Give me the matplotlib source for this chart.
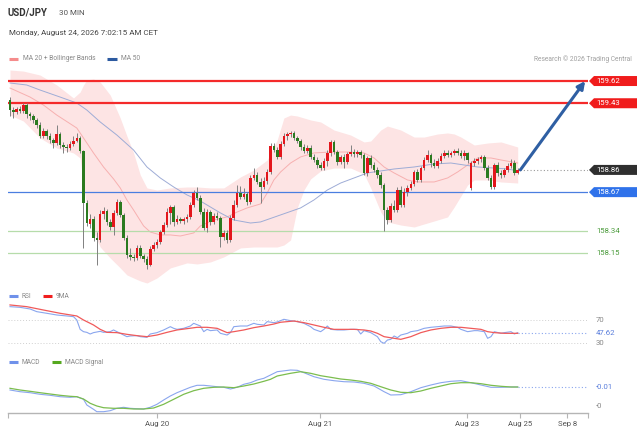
import matplotlib
matplotlib.use("Agg")
import matplotlib.pyplot as plt
from matplotlib.patches import Polygon
import numpy as np

plt.rcParams["font.family"] = ["Roboto", "DejaVu Sans"]

# =========================================================
# DATA  (USD/JPY, 30 min candles)
# =========================================================

opens = [159.458, 159.372, 159.355, 159.381, 159.364, 159.415, 159.338, 159.321, 159.287, 159.244,
         159.150, 159.193, 159.150, 159.116, 159.090, 159.167, 159.073, 159.056, 159.047, 159.082,
         159.107, 159.133, 159.022, 158.577, 158.398, 158.441, 158.278, 158.261, 158.483, 158.509,
         158.415, 158.372, 158.492, 158.586, 158.475, 158.278, 158.133, 158.116, 158.107, 158.193,
         158.124, 158.099, 158.047, 158.184, 158.218, 158.244, 158.329, 158.389, 158.492, 158.543,
         158.415, 158.441, 158.424, 158.441, 158.458, 158.560, 158.663, 158.620, 158.500, 158.364,
         158.500, 158.415, 158.466, 158.449, 158.287, 158.321, 158.261, 158.449, 158.560, 158.663,
         158.629, 158.654, 158.586, 158.791, 158.817, 158.757, 158.714, 158.765, 158.842, 159.065,
         159.030, 158.971, 159.082, 159.150, 159.167, 159.176, 159.133, 159.107, 159.056, 159.022,
         159.047, 158.971, 158.945, 158.902, 158.876, 158.936, 159.005, 159.099, 159.013, 158.928,
         158.971, 158.928, 158.996, 159.013, 158.996, 159.013, 158.988, 158.834, 158.962, 158.902,
         158.859, 158.817, 158.731, 158.517, 158.432, 158.552, 158.517, 158.688, 158.560, 158.671,
         158.706, 158.740, 158.842, 158.774, 158.876, 158.945, 158.988, 158.919, 158.894, 158.936,
         158.979, 159.005, 158.988, 159.005, 159.022, 159.005, 158.979, 159.005, 158.706, 158.919,
         158.936, 158.953, 158.971, 158.876, 158.791, 158.714, 158.902, 158.834, 158.817, 158.859,
         158.894, 158.919, 158.834]

highs = [159.483, 159.398, 159.398, 159.406, 159.432, 159.432, 159.355, 159.338, 159.304, 159.270,
         159.218, 159.210, 159.176, 159.133, 159.244, 159.184, 159.099, 159.082, 159.107, 159.150,
         159.176, 159.150, 159.030, 158.603, 158.483, 158.466, 158.329, 158.517, 158.543, 158.526,
         158.441, 158.517, 158.612, 158.603, 158.492, 158.304, 158.193, 158.141, 158.218, 158.218,
         158.141, 158.124, 158.210, 158.244, 158.270, 158.347, 158.415, 158.535, 158.560, 158.560,
         158.475, 158.458, 158.458, 158.483, 158.586, 158.688, 158.714, 158.646, 158.535, 158.526,
         158.517, 158.492, 158.500, 158.466, 158.347, 158.347, 158.475, 158.603, 158.731, 158.723,
         158.706, 158.671, 158.817, 158.876, 158.842, 158.791, 158.800, 158.868, 159.090, 159.090,
         159.056, 159.107, 159.176, 159.184, 159.193, 159.193, 159.150, 159.124, 159.082, 159.073,
         159.073, 158.996, 158.971, 158.928, 158.962, 159.030, 159.116, 159.116, 159.030, 158.988,
         158.996, 159.013, 159.073, 159.039, 159.030, 159.030, 159.005, 158.979, 158.988, 158.928,
         158.885, 158.842, 158.748, 158.543, 158.577, 158.603, 158.714, 158.723, 158.706, 158.731,
         158.765, 158.859, 158.868, 158.894, 158.971, 159.030, 159.005, 158.953, 158.962, 159.005,
         159.030, 159.030, 159.022, 159.039, 159.047, 159.030, 159.030, 159.013, 158.936, 158.962,
         158.971, 158.988, 158.988, 158.902, 158.817, 158.919, 158.928, 158.859, 158.876, 158.919,
         158.953, 158.945, 158.876]

lows = [159.321, 159.304, 159.338, 159.347, 159.347, 159.304, 159.287, 159.261, 159.218, 159.133,
        159.133, 159.124, 159.090, 159.047, 159.073, 159.047, 159.005, 159.013, 159.030, 159.065,
        159.099, 159.005, 158.193, 158.381, 158.364, 158.252, 158.047, 158.244, 158.441, 158.389,
        158.347, 158.304, 158.475, 158.458, 158.261, 158.107, 158.090, 158.082, 158.090, 158.107,
        158.073, 158.013, 158.039, 158.167, 158.193, 158.227, 158.312, 158.372, 158.398, 158.381,
        158.398, 158.406, 158.398, 158.415, 158.441, 158.543, 158.603, 158.483, 158.347, 158.329,
        158.389, 158.398, 158.432, 158.201, 158.261, 158.235, 158.244, 158.432, 158.543, 158.612,
        158.612, 158.560, 158.569, 158.774, 158.740, 158.577, 158.697, 158.740, 158.825, 159.013,
        158.953, 158.953, 159.065, 159.116, 159.141, 159.116, 159.090, 159.030, 159.005, 159.005,
        158.953, 158.928, 158.876, 158.859, 158.859, 158.894, 158.979, 158.996, 158.902, 158.911,
        158.876, 158.911, 158.979, 158.971, 158.971, 158.962, 158.817, 158.808, 158.876, 158.842,
        158.791, 158.706, 158.338, 158.398, 158.415, 158.500, 158.500, 158.543, 158.543, 158.637,
        158.688, 158.723, 158.757, 158.757, 158.859, 158.928, 158.885, 158.876, 158.876, 158.919,
        158.962, 158.971, 158.971, 158.988, 158.988, 158.962, 158.945, 158.919, 158.688, 158.894,
        158.911, 158.928, 158.859, 158.774, 158.697, 158.697, 158.808, 158.791, 158.800, 158.842,
        158.876, 158.817, 158.825]

closes = [159.372, 159.355, 159.381, 159.364, 159.415, 159.338, 159.321, 159.287, 159.244, 159.150,
          159.193, 159.150, 159.116, 159.090, 159.167, 159.073, 159.056, 159.047, 159.082, 159.107,
          159.133, 159.022, 158.577, 158.406, 158.441, 158.278, 158.261, 158.483, 158.509, 158.415,
          158.372, 158.492, 158.586, 158.475, 158.278, 158.133, 158.116, 158.107, 158.193, 158.124,
          158.099, 158.047, 158.184, 158.218, 158.244, 158.329, 158.389, 158.500, 158.543, 158.415,
          158.441, 158.424, 158.441, 158.458, 158.560, 158.663, 158.620, 158.500, 158.364, 158.500,
          158.415, 158.466, 158.449, 158.287, 158.321, 158.261, 158.449, 158.560, 158.663, 158.629,
          158.654, 158.586, 158.791, 158.817, 158.757, 158.714, 158.765, 158.842, 159.065, 159.030,
          158.971, 159.082, 159.150, 159.167, 159.176, 159.133, 159.107, 159.056, 159.022, 159.047,
          158.971, 158.945, 158.902, 158.876, 158.936, 159.005, 159.099, 159.013, 158.928, 158.971,
          158.928, 158.996, 159.013, 158.996, 159.013, 158.988, 158.834, 158.962, 158.902, 158.859,
          158.817, 158.731, 158.517, 158.432, 158.552, 158.517, 158.688, 158.560, 158.671, 158.706,
          158.740, 158.842, 158.774, 158.876, 158.945, 158.988, 158.919, 158.894, 158.936, 158.979,
          159.005, 158.988, 159.005, 159.022, 159.005, 158.979, 159.005, 158.945, 158.919, 158.936,
          158.953, 158.971, 158.876, 158.791, 158.714, 158.902, 158.834, 158.817, 158.859, 158.894,
          158.919, 158.834, 158.860]

# Bollinger bands (MA 20 +/- 2 sd), sampled along the candle index
band_idx = [0, 4, 9, 14, 19, 21, 22, 23, 25, 27, 30, 33, 35, 37, 39, 41, 44, 48, 53, 56,
            60, 64, 69, 73, 77, 80, 82, 84, 86, 88, 90, 93, 97, 102, 106, 108, 111, 113, 117, 121,
            124, 128, 131, 133, 135, 137, 139, 143, 147, 152]
band_upper = [159.714, 159.705, 159.671, 159.586, 159.475, 159.526, 159.586, 159.629, 159.637, 159.611,
              159.500, 159.304, 159.150, 159.005, 158.817, 158.706, 158.688, 158.706, 158.714, 158.714,
              158.706, 158.706, 158.800, 158.859, 158.945, 159.116, 159.304, 159.329, 159.321, 159.304,
              159.287, 159.270, 159.201, 159.158, 159.099, 159.107, 159.201, 159.235, 159.201, 159.141,
              159.141, 159.167, 159.176, 159.167, 159.141, 159.107, 159.073, 159.090, 159.099, 159.056]
band_lower = [159.329, 159.278, 159.133, 159.047, 159.005, 158.962, 158.731, 158.535, 158.329, 158.201,
              158.107, 158.022, 157.962, 157.936, 157.911, 157.893, 157.936, 158.022, 158.065, 158.056,
              158.073, 158.116, 158.193, 158.201, 158.201, 158.201, 158.218, 158.261, 158.535, 158.688,
              158.783, 158.851, 158.876, 158.876, 158.825, 158.706, 158.500, 158.415, 158.389, 158.372,
              158.398, 158.432, 158.458, 158.543, 158.637, 158.731, 158.774, 158.774, 158.757, 158.748]

ma20_idx = [0, 6, 10, 14, 20, 22, 25, 28, 31, 33, 35, 37, 40, 42, 45, 48, 51, 55, 57, 61,
            65, 68, 71, 75, 77, 79, 81, 84, 87, 91, 96, 101, 106, 109, 112, 115, 119, 122, 127, 131,
            134, 137, 140, 144, 147, 152]
ma20 = [159.560, 159.483, 159.415, 159.329, 159.218, 159.133, 159.005, 158.885, 158.783, 158.706,
        158.603, 158.517, 158.381, 158.329, 158.304, 158.304, 158.295, 158.321, 158.381, 158.432,
        158.458, 158.500, 158.535, 158.569, 158.663, 158.774, 158.842, 158.919, 158.971, 159.005,
        159.013, 159.013, 159.005, 158.962, 158.885, 158.834, 158.774, 158.757, 158.757, 158.791,
        158.842, 158.902, 158.962, 158.962, 158.945, 158.919]

ma50_idx = [0, 5, 9, 15, 20, 23, 27, 32, 37, 41, 45, 49, 53, 57, 63, 67, 72, 75, 81, 87,
            91, 95, 99, 103, 107, 111, 115, 121, 127, 132, 136, 140, 145, 149, 152]
ma50 = [159.603, 159.586, 159.543, 159.483, 159.432, 159.372, 159.270, 159.158, 159.030, 158.885,
        158.791, 158.714, 158.646, 158.594, 158.492, 158.432, 158.406, 158.415, 158.475, 158.535,
        158.603, 158.688, 158.748, 158.791, 158.834, 158.851, 158.868, 158.885, 158.911, 158.919,
        158.902, 158.885, 158.876, 158.868, 158.851]

# support / resistance levels
resist_levels = [159.62, 159.43]
pivot_level = 158.67
support_levels = [158.34, 158.15]
last_price = 158.86
target_price = 159.62

# RSI and its 9 period MA
rsi_idx = [0, 3, 6, 8, 11, 14, 17, 19, 20, 21, 22, 23, 24, 25, 27, 28, 30, 31, 33, 35,
           36, 38, 39, 41, 42, 44, 46, 48, 49, 50, 52, 54, 55, 57, 58, 59, 60, 62, 63, 65,
           66, 67, 69, 71, 73, 74, 76, 77, 79, 80, 82, 84, 86, 88, 90, 91, 93, 94, 95, 96,
           98, 100, 102, 104, 105, 106, 108, 110, 111, 112, 113, 114, 115, 116, 117, 119, 120, 122, 124, 126,
           128, 130, 132, 134, 135, 137, 139, 140, 142, 143, 144, 145, 147, 148, 150, 151, 152]
rsi = [93.5, 92.3, 89.4, 84.7, 81.8, 78.8, 77.1, 75.9, 70.0, 53.5, 49.4, 48.2, 45.3, 47.7, 50.0, 48.2, 49.4, 52.4, 46.5, 40.6,
       41.8, 42.4, 40.6, 39.4, 45.3, 47.7, 52.4, 58.2, 55.3, 53.5, 55.3, 59.4, 64.1, 59.4, 49.4, 53.5, 51.2, 52.4, 46.5, 43.5,
       47.7, 58.2, 59.4, 59.4, 64.1, 62.4, 61.2, 67.1, 65.3, 66.5, 71.2, 68.8, 67.1, 64.1, 58.2, 53.5, 49.4, 53.5, 59.4, 53.5,
       52.4, 52.4, 53.5, 53.5, 45.3, 51.2, 47.7, 40.6, 31.8, 28.8, 34.7, 35.9, 41.8, 38.8, 43.5, 46.5, 49.4, 51.2, 55.3, 57.1,
       58.2, 59.4, 59.4, 57.1, 53.5, 49.4, 51.2, 51.2, 49.4, 37.7, 40.6, 49.4, 46.5, 47.7, 49.4, 45.3, 47.62]

rsi_ma_idx = [0, 5, 10, 15, 20, 22, 25, 27, 29, 32, 35, 38, 41, 44, 47, 50, 53, 56, 59, 62,
              65, 67, 70, 73, 76, 79, 81, 85, 88, 91, 94, 97, 100, 103, 106, 108, 110, 112, 115, 117,
              120, 123, 126, 129, 132, 135, 138, 141, 143, 145, 148, 152]
rsi_ma = [96.5, 93.5, 87.6, 81.8, 77.1, 70.0, 61.2, 53.5, 48.2, 47.7, 44.7, 42.4, 40.6, 43.5, 48.2, 52.4, 54.7, 57.1, 57.1, 55.3,
          47.7, 49.4, 52.4, 56.5, 59.4, 62.9, 66.0, 68.2, 65.3, 61.2, 57.1, 53.5, 53.5, 53.5, 52.4, 50.6, 46.5, 40.6, 37.7, 35.9,
          40.6, 47.7, 52.4, 55.3, 57.1, 57.1, 55.3, 53.5, 49.4, 47.7, 46.5, 46.5]

# MACD and signal
macd_idx = [0, 3, 6, 9, 12, 15, 18, 20, 22, 23, 25, 26, 28, 30, 32, 34, 36, 38, 40, 42,
            44, 46, 48, 50, 52, 54, 56, 58, 60, 62, 64, 66, 68, 70, 72, 74, 76, 78, 80, 84,
            86, 88, 91, 94, 97, 100, 103, 106, 109, 112, 114, 117, 120, 123, 126, 129, 132, 135, 138, 141,
            144, 147, 150, 152]
macd = [-0.0127, -0.0144, -0.0154, -0.0170, -0.0180, -0.0194, -0.0200, -0.0194, -0.0220, -0.0277,
        -0.0320, -0.0344, -0.0344, -0.0334, -0.0310, -0.0300, -0.0310, -0.0314, -0.0317, -0.0300,
        -0.0270, -0.0227, -0.0187, -0.0154, -0.0127, -0.0100, -0.0080, -0.0080, -0.0087, -0.0094,
        -0.0100, -0.0117, -0.0100, -0.0070, -0.0054, -0.0027, -0.0010, 0.0023, 0.0056, 0.0073,
        0.0070, 0.0046, 0.0006, -0.0020, -0.0034, -0.0044, -0.0047, -0.0060, -0.0087, -0.0144,
        -0.0177, -0.0174, -0.0144, -0.0104, -0.0077, -0.0054, -0.0040, -0.0034, -0.0054, -0.0077,
        -0.0100, -0.0100, -0.0097, -0.0097]

signal_idx = [0, 3, 6, 9, 12, 15, 18, 20, 22, 24, 26, 28, 31, 34, 37, 40, 43, 46, 49, 52,
              55, 58, 61, 64, 67, 70, 73, 76, 78, 80, 84, 87, 90, 93, 96, 99, 102, 105, 108, 111,
              114, 117, 120, 123, 126, 129, 132, 135, 138, 141, 144, 147, 150, 152]
signal = [-0.0110, -0.0127, -0.0140, -0.0154, -0.0167, -0.0180, -0.0190, -0.0194, -0.0217, -0.0260,
          -0.0287, -0.0304, -0.0310, -0.0310, -0.0317, -0.0317, -0.0307, -0.0270, -0.0220, -0.0170,
          -0.0134, -0.0110, -0.0100, -0.0097, -0.0104, -0.0087, -0.0067, -0.0040, -0.0020, 0.0013,
          0.0040, 0.0056, 0.0040, 0.0016, 0.0000, -0.0017, -0.0027, -0.0040, -0.0060, -0.0094,
          -0.0127, -0.0150, -0.0154, -0.0137, -0.0110, -0.0087, -0.0064, -0.0054, -0.0054, -0.0064,
          -0.0080, -0.0090, -0.0097, -0.0097]

tick_pos = [44, 92.8, 136.8, 152.7, 166.8]
tick_labels = ["Aug 20", "Aug 21", "Aug 23", "Aug 25", "Sep 8"]

# =========================================================
# COLOURS
# =========================================================
C_UP = "#e3161c"
C_DOWN = "#2b7a1f"
C_WICK = "#808080"
C_BAND = "#fde4e4"
C_MA20 = "#f7b0b0"
C_MA50 = "#9eacd6"
C_RES = "#f42a2a"
C_PIVOT = "#4a7ee0"
C_SUP = "#b6dcaa"
C_SUP_TXT = "#4b9b3c"
C_RSI = "#8aa6ee"
C_RSI_MA = "#f05a5a"
C_MACD = "#8aa6ee"
C_SIG = "#7bbd4e"
C_ARROW = "#2f5fa3"

W, H = 640, 433
fig = plt.figure(figsize=(W / 100, H / 100), dpi=100)
fig.patch.set_facecolor("white")


def px_axes(left, top, right, bottom):
    return fig.add_axes([left / W, 1 - bottom / H, (right - left) / W, (bottom - top) / H])


XMIN, XMAX = -0.6, 173.05

ax = px_axes(8, 65, 588, 285)
ax_rsi = px_axes(8, 302, 588, 350)
ax_macd = px_axes(8, 366, 588, 413)

for a in (ax, ax_rsi, ax_macd):
    a.set_xlim(XMIN, XMAX)
    a.set_facecolor("none")
    for s in a.spines.values():
        s.set_visible(False)
    a.set_yticks([])
    a.set_xticks([])

# ---------------- main price panel ----------------
ax.set_ylim(157.876, 159.757)

ax.fill_between(band_idx, band_lower, band_upper, color=C_BAND, lw=0, zorder=1)
ax.plot(ma20_idx, ma20, color=C_MA20, lw=0.7, zorder=2)
ax.plot(ma50_idx, ma50, color=C_MA50, lw=0.7, zorder=2)

for lv in resist_levels:
    ax.axhline(lv, color=C_RES, lw=1.6, zorder=3)
ax.axhline(pivot_level, color=C_PIVOT, lw=0.9, zorder=3)
for lv in support_levels:
    ax.axhline(lv, color=C_SUP, lw=0.9, zorder=3)

o = np.array(opens)
c = np.array(closes)
hi = np.array(highs)
lo = np.array(lows)
x = np.arange(len(c))
up = c >= o
cols = np.where(up, C_UP, C_DOWN)

ax.vlines(x, lo, hi, color=C_WICK, lw=0.7, zorder=4)
body = np.maximum(np.abs(c - o), 0.003)
ax.bar(x, body, bottom=np.minimum(o, c), width=0.78, color=cols, lw=0, zorder=5)

ax.plot([x[-1] + 0.8, XMAX], [last_price, last_price], color="#9a9a9a", lw=0.8,
        ls=(0, (1, 2)), zorder=3)

ax.annotate("", xy=(172.2, target_price), xytext=(x[-1] + 0.8, last_price),
            arrowprops=dict(arrowstyle="-|>", color=C_ARROW, lw=2.2, mutation_scale=11,
                            shrinkA=0, shrinkB=0), zorder=6)

# ---------------- RSI panel ----------------
ax_rsi.set_ylim(17.1, 101.7)
for lv in (70, 30):
    ax_rsi.axhline(lv, color="#d0d0d0", lw=0.7, ls=(0, (1, 2)))
ax_rsi.plot([rsi_idx[-1], XMAX], [rsi[-1], rsi[-1]], color=C_RSI, lw=0.8, ls=(0, (1, 2)))
ax_rsi.plot(rsi_idx, rsi, color=C_RSI, lw=0.8)
ax_rsi.plot(rsi_ma_idx, rsi_ma, color=C_RSI_MA, lw=0.9)

# ---------------- MACD panel ----------------
ax_macd.set_ylim(-0.0357, 0.0113)
ax_macd.plot([macd_idx[-1], XMAX], [macd[-1], macd[-1]], color=C_MACD, lw=0.8, ls=(0, (1, 2)))
ax_macd.plot(macd_idx, macd, color=C_MACD, lw=0.8)
ax_macd.plot(signal_idx, signal, color=C_SIG, lw=0.9)

ax_macd.spines["bottom"].set_visible(True)
ax_macd.spines["bottom"].set_color("#b5b5b5")
ax_macd.spines["bottom"].set_linewidth(1.0)
ax_macd.set_xticks([XMIN] + tick_pos + [XMAX])
ax_macd.set_xticklabels([""] + tick_labels + [""])
ax_macd.tick_params(axis="x", length=3.5, width=0.8, color="#b5b5b5", labelsize=5.6,
                    labelcolor="#555555", pad=2)

# =========================================================
# OVERLAY: header, legends, price tags
# =========================================================
ov = fig.add_axes([0, 0, 1, 1], zorder=10)
ov.set_xlim(0, W)
ov.set_ylim(H, 0)
ov.axis("off")
ov.patch.set_alpha(0)


def y_of(a, val):
    return H - a.transData.transform((0, val))[1]


ov.text(8, 13, "USD/JPY", fontsize=7, fontweight="bold", color="#333333", va="center")
ov.text(59, 13, "30 MIN", fontsize=5.8, color="#555555", va="center")
ov.text(9, 33, "Monday, August 24, 2026 7:02:15 AM CET", fontsize=5.8, color="#444444", va="center")

ov.plot([9, 18], [59, 59], color="#f58c8c", lw=2.2, solid_capstyle="butt")
ov.text(23, 59, "MA 20 + Bollinger Bands", fontsize=4.8, color="#888888", va="center")
ov.plot([107, 117], [59, 59], color="#2c5aa0", lw=2.2, solid_capstyle="butt")
ov.text(121, 59, "MA 50", fontsize=4.8, color="#888888", va="center")
ov.text(632, 59, "Research \u00a9 2026 Trading Central", fontsize=4.8, color="#a0a0a0",
        va="center", ha="right")

ov.plot([9, 18], [296, 296], color="#6f91ea", lw=2.2, solid_capstyle="butt")
ov.text(22, 296, "RSI", fontsize=4.8, color="#888888", va="center")
ov.plot([43, 52], [296, 296], color="#f01e1e", lw=2.2, solid_capstyle="butt")
ov.text(56, 296, "9MA", fontsize=4.8, color="#888888", va="center")

ov.plot([9, 18], [362, 362], color="#6f91ea", lw=2.2, solid_capstyle="butt")
ov.text(22, 362, "MACD", fontsize=4.8, color="#888888", va="center")
ov.plot([52, 61], [362, 362], color="#55a81f", lw=2.2, solid_capstyle="butt")
ov.text(65, 362, "MACD Signal", fontsize=4.8, color="#888888", va="center")


def tag(val, color, a=ax):
    yc = y_of(a, val)
    pts = [(589, yc), (594, yc - 5), (637, yc - 5), (637, yc + 5), (594, yc + 5)]
    ov.add_patch(Polygon(pts, closed=True, facecolor=color, edgecolor="none"))
    ov.text(596, yc, f"{val:.2f}", fontsize=5.6, color="white", va="center", ha="left")


for lv in resist_levels:
    tag(lv, "#f01c1c")
tag(last_price, "#2f2f2f")
tag(pivot_level, "#2f72ea")
for lv in support_levels:
    ov.text(596, y_of(ax, lv), f"{lv:.2f}", fontsize=5.6, color=C_SUP_TXT, va="center")

ov.text(596, y_of(ax_rsi, 70), "70", fontsize=5.6, color="#888888", va="center")
ov.text(596, y_of(ax_rsi, 30), "30", fontsize=5.6, color="#888888", va="center")
ov.text(596, y_of(ax_rsi, rsi[-1]), f"{rsi[-1]:.2f}", fontsize=5.6, color="#5b7fdc", va="center")

ov.text(596, y_of(ax_macd, macd[-1]), "-0.01", fontsize=5.6, color="#5b7fdc", va="center")
ov.text(596, 406, "-0", fontsize=5.6, color="#888888", va="center")

fig.savefig("out.png", dpi=100, facecolor="white")
